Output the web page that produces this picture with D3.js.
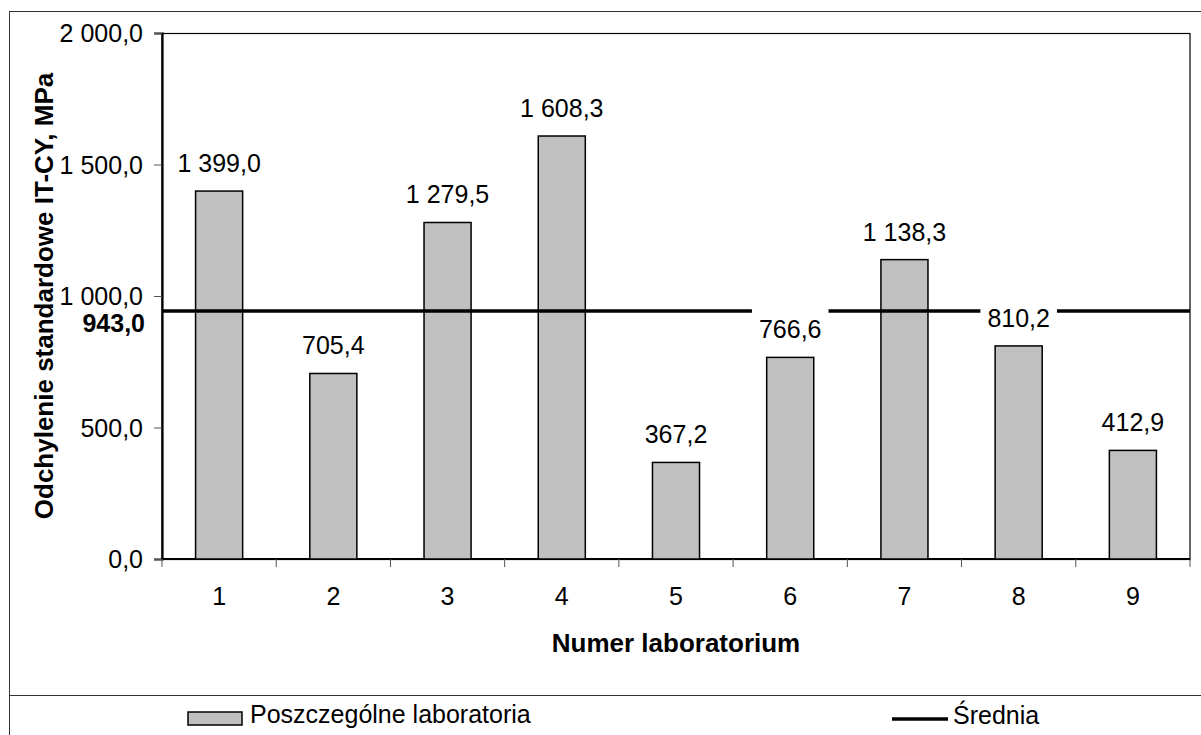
<!DOCTYPE html>
<html lang="pl">
<head>
<meta charset="utf-8">
<script src="https://cdn.jsdelivr.net/npm/d3@7"></script>
<style>
  html, body { margin: 0; padding: 0; background: #fff; }
  svg { display: block; font-family: "Liberation Sans", Arial, sans-serif; }
</style>
</head>
<body>
<svg id="chart" width="1201" height="735"></svg>
<script>
// Odchylenie standardowe IT-CY w poszczególnych laboratoriach
const labs = ["1", "2", "3", "4", "5", "6", "7", "8", "9"];
const stdDev = [1399.0, 705.4, 1279.5, 1608.3, 367.2, 766.6, 1138.3, 810.2, 412.9];
const meanValue = 943.0;
const yTicks = [0, 500, 1000, 1500, 2000];
const yTitle = "Odchylenie standardowe IT-CY, MPa";
const xTitle = "Numer laboratorium";
const legendBars = "Poszczególne laboratoria";
const legendMean = "Średnia";

const pl = d3.formatLocale({ decimal: ",", thousands: " ", grouping: [3], currency: ["", " zł"] });
const fmt = pl.format(",.1f");

const svg = d3.select("#chart");
const W = 1201, H = 735;
const plot = { left: 162, top: 33, right: 1190, bottom: 559 };

// outer frame and legend divider
svg.append("rect")
  .attr("x", 9.5).attr("y", 11.5).attr("width", W).attr("height", H)
  .attr("fill", "none").attr("stroke", "#333").attr("stroke-width", 1);
svg.append("line")
  .attr("x1", 9.5).attr("x2", W).attr("y1", 695.5).attr("y2", 695.5)
  .attr("stroke", "#333").attr("stroke-width", 1);

const x = d3.scaleBand()
  .domain(labs)
  .range([plot.left, plot.right])
  .paddingInner(0.588)
  .paddingOuter(0.294);

const y = d3.scaleLinear()
  .domain([0, 2000])
  .range([plot.bottom, plot.top]);

// plot area border
svg.append("rect")
  .attr("x", plot.left).attr("y", plot.top + 0.5)
  .attr("width", plot.right - plot.left).attr("height", plot.bottom - plot.top)
  .attr("fill", "#fff").attr("stroke", "#000").attr("stroke-width", 1.2);

// y axis
const yAxis = d3.axisLeft(y).tickValues(yTicks).tickFormat(fmt).tickSize(8).tickPadding(11);
const gy = svg.append("g").attr("transform", `translate(${plot.left},0)`).call(yAxis);
gy.select(".domain").attr("stroke", "#000").attr("stroke-width", 2.2);
gy.selectAll(".tick line").attr("stroke", "#555").attr("stroke-width", 1);
gy.selectAll(".tick text")
  .attr("font-size", 25).attr("fill", "#000").attr("dy", "0.35em")
  .style("font-family", "'Liberation Sans', Arial, sans-serif");

// x axis: ticks at category boundaries
const step = x.step();
const boundaries = d3.range(labs.length + 1).map(i => plot.left + i * step);
const gx = svg.append("g");
gx.append("line")
  .attr("x1", plot.left).attr("x2", plot.right)
  .attr("y1", plot.bottom).attr("y2", plot.bottom)
  .attr("stroke", "#000").attr("stroke-width", 2.2);
gx.selectAll("line.tk").data(boundaries).join("line")
  .attr("class", "tk")
  .attr("x1", d => d).attr("x2", d => d)
  .attr("y1", plot.bottom).attr("y2", plot.bottom + 8)
  .attr("stroke", "#555").attr("stroke-width", 1);
gx.selectAll("text").data(labs).join("text")
  .attr("x", d => x(d) + x.bandwidth() / 2)
  .attr("y", plot.bottom + 46)
  .attr("text-anchor", "middle")
  .attr("font-size", 25)
  .text(d => d);

// bars
svg.append("g").selectAll("rect").data(labs).join("rect")
  .attr("x", d => x(d))
  .attr("y", (d, i) => y(stdDev[i]))
  .attr("width", x.bandwidth())
  .attr("height", (d, i) => y(0) - y(stdDev[i]))
  .attr("fill", "#c0c0c0")
  .attr("stroke", "#000")
  .attr("stroke-width", 1.5);

// mean line
svg.append("line")
  .attr("x1", plot.left).attr("x2", plot.right)
  .attr("y1", y(meanValue)).attr("y2", y(meanValue))
  .attr("stroke", "#000").attr("stroke-width", 3.6);

// value labels with white backing
const lbl = svg.append("g").selectAll("g").data(labs).join("g")
  .attr("transform", (d, i) => `translate(${x(d) + x.bandwidth() / 2},${y(stdDev[i]) - 19})`);
lbl.append("text")
  .attr("text-anchor", "middle")
  .attr("font-size", 25)
  .text((d, i) => fmt(stdDev[i]));
lbl.each(function () {
  const g = d3.select(this);
  const bb = g.select("text").node().getBBox();
  g.insert("rect", "text")
    .attr("x", bb.x - 7).attr("y", bb.y - 8)
    .attr("width", bb.width + 14).attr("height", bb.height + 10)
    .attr("fill", "#fff");
});

// mean value label next to the axis
svg.append("text")
  .attr("x", 145).attr("y", y(meanValue) + 21)
  .attr("text-anchor", "end")
  .attr("font-size", 25).attr("font-weight", "bold")
  .text(fmt(meanValue));

// axis titles
svg.append("text")
  .attr("transform", `translate(53,${(plot.top + plot.bottom) / 2}) rotate(-90)`)
  .attr("text-anchor", "middle")
  .attr("font-size", 26).attr("font-weight", "bold")
  .text(yTitle);
svg.append("text")
  .attr("x", (plot.left + plot.right) / 2).attr("y", 652)
  .attr("text-anchor", "middle")
  .attr("font-size", 26).attr("font-weight", "bold")
  .text(xTitle);

// legend
const lg = svg.append("g");
lg.append("rect")
  .attr("x", 188).attr("y", 712).attr("width", 54).attr("height", 13)
  .attr("fill", "#c0c0c0").attr("stroke", "#000").attr("stroke-width", 1.5);
lg.append("text")
  .attr("x", 250).attr("y", 723)
  .attr("font-size", 25)
  .text(legendBars);
lg.append("line")
  .attr("x1", 892).attr("x2", 948).attr("y1", 719).attr("y2", 719)
  .attr("stroke", "#000").attr("stroke-width", 3.6);
lg.append("text")
  .attr("x", 953).attr("y", 724)
  .attr("font-size", 25)
  .text(legendMean);
</script>
</body>
</html>
